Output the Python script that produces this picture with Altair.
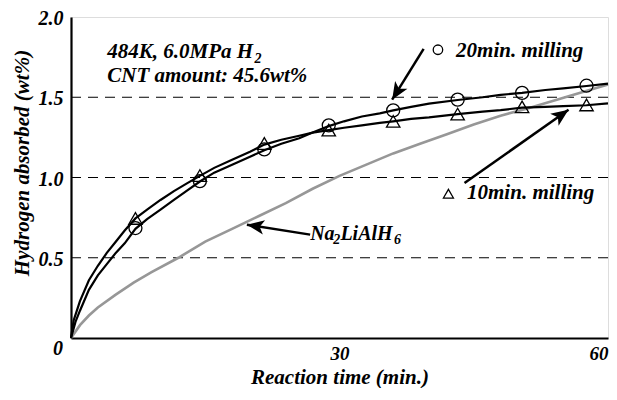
import altair as alt
import pandas as pd

# ---- data ----
time_20 = [0, 0.5, 1, 2, 3, 4, 5, 6, 7.2, 8.5, 10, 11.5, 13, 14.4, 16, 18, 20, 21.6, 23.5, 25.5,
           27, 28.8, 30.5, 32.5, 34.5, 36, 38, 40, 43.2, 46, 48, 50.4, 53, 55, 57.6, 60]
h2_20 = [0, 0.10, 0.17, 0.30, 0.39, 0.46, 0.53, 0.59, 0.68, 0.74, 0.80, 0.86, 0.92, 0.975, 1.03, 1.08,
         1.13, 1.17, 1.21, 1.245, 1.28, 1.32, 1.35, 1.38, 1.40, 1.418, 1.44, 1.46, 1.483, 1.50, 1.515,
         1.527, 1.545, 1.555, 1.57, 1.585]

time_10 = [0, 0.3, 1, 2, 3, 4, 5, 6, 7.2, 8.5, 10, 11.5, 13, 14.4, 16, 18, 20, 21.6, 23.5, 25.5,
           27, 28.8, 30.5, 32.5, 34.5, 36, 38, 40, 43.2, 46, 48, 50.4, 53, 55, 57.6, 60]
h2_10 = [0, 0.11, 0.23, 0.36, 0.45, 0.53, 0.60, 0.67, 0.745, 0.80, 0.86, 0.915, 0.965, 1.01, 1.06,
         1.11, 1.16, 1.205, 1.235, 1.26, 1.28, 1.295, 1.31, 1.325, 1.34, 1.35, 1.365, 1.375, 1.395,
         1.41, 1.42, 1.435, 1.44, 1.445, 1.45, 1.462]

time_base = [0, 1, 2, 3, 5, 7, 9, 12, 15, 18, 21, 24, 27, 30, 33, 36, 39, 42, 45, 48, 51, 54, 57, 60]
h2_base = [0, 0.08, 0.14, 0.19, 0.27, 0.345, 0.41, 0.50, 0.60, 0.68, 0.76, 0.84, 0.93, 1.01, 1.08,
           1.15, 1.21, 1.27, 1.33, 1.385, 1.43, 1.48, 1.53, 1.58]

marker_t = [7.2, 14.4, 21.6, 28.8, 36.0, 43.2, 50.4, 57.6]
marker_20 = [0.685, 0.977, 1.175, 1.325, 1.418, 1.485, 1.527, 1.572]
marker_10 = [0.745, 1.012, 1.212, 1.295, 1.35, 1.395, 1.44, 1.452]

grid_levels = [0.5, 1.0, 1.5]
x_ticks = [30, 60]
y_ticks = [0.5, 1.0, 1.5, 2.0]

# annotations (data coordinates)
ann_text = ["484K, 6.0MPa H", "2", "CNT amount: 45.6wt%", "20min. milling", "10min. milling",
            "Na", "2", "LiAlH", "6"]
ann_t = [4.05, 20.5, 4.05, 43.03, 44.25, 26.72, 29.3, 30.1, 36.1]
ann_v = [1.746, 1.712, 1.593, 1.751, 0.866, 0.612, 0.584, 0.612, 0.584]
ann_fs = [21, 14, 21, 21, 21, 20, 14, 20, 14]

arrow_tail_t = [39.40, 43.97, 26.72]
arrow_tail_v = [1.801, 0.966, 0.644]
arrow_tip_t = [35.88, 55.59, 19.65]
arrow_tip_v = [1.485, 1.422, 0.706]
arrow_angle = [211.9, 54.8, 279.0]

key_t = [41.0, 42.17]
key_v = [1.796, 0.899]

FONT = "Liberation Serif"
W, H = 537, 321

xs = alt.Scale(domain=[0, 60], nice=False, zero=False)
ys = alt.Scale(domain=[0, 2], nice=False)

df20 = pd.DataFrame({"t": time_20, "v": h2_20})
df10 = pd.DataFrame({"t": time_10, "v": h2_10})
dfb = pd.DataFrame({"t": time_base, "v": h2_base})
dfm20 = pd.DataFrame({"t": marker_t, "v": marker_20})
dfm10 = pd.DataFrame({"t": marker_t, "v": marker_10})
dfg = pd.DataFrame({"v": grid_levels})
dfa = pd.DataFrame({"text": ann_text, "t": ann_t, "v": ann_v, "fs": ann_fs})
dfr = pd.DataFrame({"t": arrow_tail_t, "v": arrow_tail_v, "t2": arrow_tip_t, "v2": arrow_tip_v,
                    "ang": arrow_angle})
dfk1 = pd.DataFrame({"t": key_t[:1], "v": key_v[:1]})
dfk2 = pd.DataFrame({"t": key_t[1:], "v": key_v[1:]})
dfz = pd.DataFrame({"t": [0], "v": [0], "text": ["0"]})

text_style = dict(font=FONT, fontStyle="italic", fontWeight="bold", color="black")

x_axis = alt.Axis(values=x_ticks, format="d", labelFlush=True, labelFlushOffset=0, ticks=False,
                  tickSize=0, grid=False,
                  domainColor="black", domainWidth=2.2, labelFont=FONT, labelFontSize=19,
                  labelFontStyle="italic", labelFontWeight="bold", labelColor="black", labelPadding=6,
                  title="Reaction time (min.)", titleFont=FONT, titleFontSize=21, titleFontStyle="italic",
                  titleFontWeight="bold", titleColor="black", titleY=45, titleBaseline="alphabetic")
y_axis = alt.Axis(values=y_ticks, format=".1f", ticks=False, tickSize=0, grid=False,
                  domainColor="black", domainWidth=2.2, labelFont=FONT, labelFontSize=20,
                  labelFontStyle="italic", labelFontWeight="bold", labelColor="black", labelPadding=8,
                  labelOffset=1.5,
                  title="Hydrogen absorbed (wt%)", titleFont=FONT, titleFontSize=21,
                  titleFontStyle="italic", titleFontWeight="bold", titleColor="black",
                  titleX=-49, titleY=H / 2 - 15, titleAngle=270, titleBaseline="middle",
                  titleAlign="center")

X = lambda f="t": alt.X(f"{f}:Q", scale=xs, axis=x_axis)
Y = lambda f="v": alt.Y(f"{f}:Q", scale=ys, axis=y_axis)

grid = alt.Chart(dfg).mark_rule(color="black", strokeWidth=1, strokeDash=[10, 7]).encode(y=Y())


def curve(df, color, width):
    return alt.Chart(df).mark_line(color=color, strokeWidth=width).encode(x=X(), y=Y())


base_line = curve(dfb, "#979797", 2.6)
line20 = curve(df20, "black", 2.2)
line10 = curve(df10, "black", 2.2)


def markers(df, shape, size):
    return alt.Chart(df).mark_point(shape=shape, filled=False, size=size, color="black",
                                    strokeWidth=1.3, opacity=1).encode(x=X(), y=Y())


m20 = markers(dfm20, "circle", 169)
m10 = markers(dfm10, "triangle-up", 180)
k20 = markers(dfk1, "circle", 90)
k10 = markers(dfk2, "triangle-up", 100)

arrow_lines = alt.Chart(dfr).mark_rule(color="black", strokeWidth=2.5).encode(
    x=X(), y=Y(), x2="t2:Q", y2="v2:Q"
)
arrow_heads = alt.Chart(dfr).mark_point(
    shape="M0,0 L0.42,1 L0,0.75 L-0.42,1 Z", filled=True, color="black", size=1200, opacity=1,
    strokeWidth=0
).encode(x=X("t2"), y=Y("v2"), angle=alt.Angle("ang:Q", scale=None))

texts = alt.Chart(dfa).mark_text(align="left", baseline="alphabetic", **text_style).encode(
    x=X(), y=Y(), text="text:N", size=alt.Size("fs:Q", scale=None)
)
zero_label = alt.Chart(dfz).mark_text(align="right", baseline="middle", dx=-8, dy=11, fontSize=20,
                                      **text_style).encode(x=X(), y=Y(), text="text:N")

chart = alt.layer(
    grid, base_line, line20, line10, m20, m10, arrow_lines, arrow_heads,
    k20, k10, texts, zero_label
).properties(
    width=W, height=H,
    padding={"left": 63, "top": 9, "right": 1, "bottom": 50},
    autosize=alt.AutoSizeParams(type="none"),
).configure_view(stroke="black", strokeWidth=1.5).configure(background="white")

chart.save("out.html", embed_options={"renderer": "svg", "actions": False})
